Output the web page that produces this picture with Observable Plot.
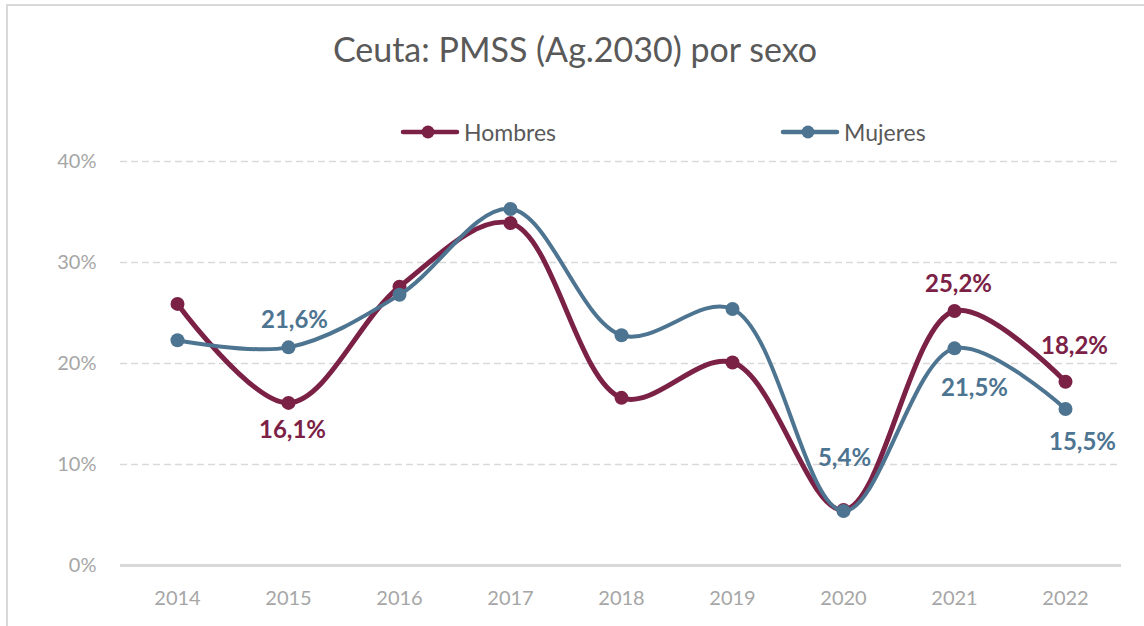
<!DOCTYPE html>
<html><head><meta charset="utf-8">
<script src="https://cdn.jsdelivr.net/npm/d3@7"></script>
<script src="https://cdn.jsdelivr.net/npm/@observablehq/plot@0.6"></script>
<style>
body{margin:0;background:#fff;font-family:Lato,"Open Sans",sans-serif;}
#frame{position:relative;width:1144px;height:626px;overflow:hidden;background:#fff;}
#border{position:absolute;left:6px;top:4px;width:1160px;height:660px;border:2px solid #d9d9d9;}
#title{position:absolute;left:0;width:1150px;top:29px;text-align:center;font-size:34px;line-height:40px;color:#595959;}
.leg{position:absolute;top:118px;height:28px;display:flex;align-items:center;font-size:23px;color:#595959;}
.leg svg{margin-right:4px;}
#chart{position:absolute;left:0;top:145px;}
</style>
</head><body>
<div id="frame">
  <div id="border"></div>
  <div id="title">Ceuta: PMSS (Ag.2030) por sexo</div>
  <div id="legend"></div>
  <div id="chart"></div>
</div>
<script>
const years = [2014, 2015, 2016, 2017, 2018, 2019, 2020, 2021, 2022];
const hombres = [25.9, 16.1, 27.6, 33.9, 16.6, 20.1, 5.5, 25.2, 18.2];
const mujeres = [22.3, 21.6, 26.8, 35.3, 22.8, 25.4, 5.4, 21.5, 15.5];
const series = ["Hombres", "Mujeres"];
const colors = ["#7B2146", "#4D7490"];
const yTicks = [0, 10, 20, 30, 40];
const labeledHombres = [2015, 2021, 2022];
const labeledMujeres = [2015, 2020, 2021, 2022];

const rows = [];
years.forEach((y, i) => {
  rows.push({year: y, value: hombres[i], serie: series[0]});
  rows.push({year: y, value: mujeres[i], serie: series[1]});
});
const H = rows.filter(d => d.serie === series[0]);
const M = rows.filter(d => d.serie === series[1]);
const fmt = v => v.toFixed(1).replace(".", ",") + "%";
const lab = (arr, yrs, yr) => arr.filter(d => yrs.includes(d.year) && d.year === yr);

// legend
const legPos = [400, 780];
const legend = document.getElementById("legend");
series.forEach((s, i) => {
  const div = document.createElement("div");
  div.className = "leg";
  div.style.left = legPos[i] + "px";
  div.innerHTML = `<svg width="60" height="20"><line x1="3" y1="10" x2="57" y2="10" stroke="${colors[i]}" stroke-width="4.5" stroke-linecap="round"/><circle cx="28" cy="10" r="6.5" fill="${colors[i]}"/></svg><span>${s}</span>`;
  legend.appendChild(div);
});

const labelStyle = {text: d => fmt(d.value), fill: "serie", fontSize: 24, fontWeight: "bold"};

const chart = Plot.plot({
  width: 1144,
  height: 476,
  marginTop: 16,
  marginBottom: 56,
  marginLeft: 120,
  marginRight: 23,
  style: {fontFamily: "Lato, sans-serif", background: "transparent"},
  x: {type: "point", domain: years, padding: 0.5, label: null},
  y: {domain: [0, 40], label: null},
  color: {domain: series, range: colors},
  marks: [
    Plot.ruleY(yTicks.filter(t => t > 0), {stroke: "#d9d9d9", strokeWidth: 1.3, strokeDasharray: "7,4"}),
    Plot.ruleY([0], {stroke: "#d9d9d9", strokeWidth: 3}),
    Plot.axisY({ticks: yTicks, tickSize: 0, tickPadding: 24, tickFormat: d => d + "%", fontSize: 20, color: "#a6a6a6", label: null}),
    Plot.axisX({tickSize: 0, tickPadding: 25, fontSize: 20, color: "#a6a6a6", tickFormat: d => String(d), label: null}),
    Plot.line(H, {x: "year", y: "value", stroke: "serie", strokeWidth: 5, curve: "catmull-rom"}),
    Plot.dot(H, {x: "year", y: "value", fill: "serie", r: 7}),
    Plot.line(M, {x: "year", y: "value", stroke: "serie", strokeWidth: 4, curve: "catmull-rom"}),
    Plot.dot(M, {x: "year", y: "value", fill: "serie", r: 7}),
    Plot.text(lab(H, labeledHombres, 2015), {x: "year", y: "value", ...labelStyle, dx: 4, dy: 27}),
    Plot.text(lab(H, labeledHombres, 2021), {x: "year", y: "value", ...labelStyle, dx: 4, dy: -27}),
    Plot.text(lab(H, labeledHombres, 2022), {x: "year", y: "value", ...labelStyle, dx: 9, dy: -35}),
    Plot.text(lab(M, labeledMujeres, 2015), {x: "year", y: "value", ...labelStyle, dx: 6, dy: -27}),
    Plot.text(lab(M, labeledMujeres, 2020), {x: "year", y: "value", ...labelStyle, dx: 1, dy: -53}),
    Plot.text(lab(M, labeledMujeres, 2021), {x: "year", y: "value", ...labelStyle, dx: 20, dy: 40}),
    Plot.text(lab(M, labeledMujeres, 2022), {x: "year", y: "value", ...labelStyle, dx: 17, dy: 33})
  ]
});
document.getElementById("chart").appendChild(chart);
</script>
</body></html>
